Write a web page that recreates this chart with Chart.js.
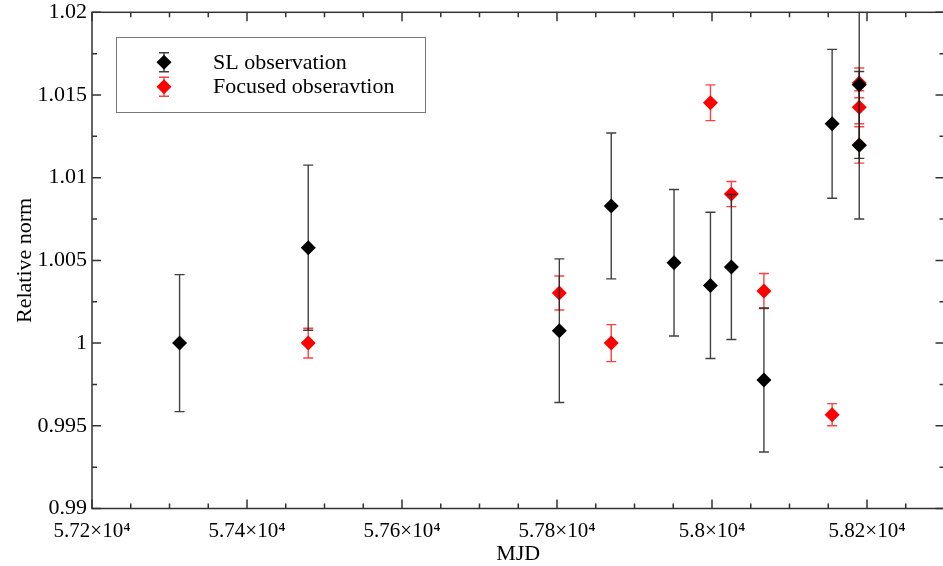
<!DOCTYPE html>
<html>
<head>
<meta charset="utf-8">
<script src="https://cdn.jsdelivr.net/npm/chart.js@4/dist/chart.umd.min.js"></script>
<style>
  body { margin: 0; background: #fff; }
  #wrap { width: 943px; height: 566px; }
</style>
</head>
<body>
<div id="wrap"><canvas id="Chart" width="943" height="566"></canvas></div>
<script>
// tick values and labels
const xTicks = [57200, 57400, 57600, 57800, 58000, 58200]
const xTickLabels = ['5.72×10⁴', '5.74×10⁴', '5.76×10⁴', '5.78×10⁴', '5.8×10⁴', '5.82×10⁴']
const yTicks = [0.99, 0.995, 1, 1.005, 1.01, 1.015, 1.02]
const yTickLabels = ['0.99', '0.995', '1', '1.005', '1.01', '1.015', '1.02']

// SL observation (black)
const slMjd = [57313, 57479, 57803, 57870, 57951, 57998, 58025, 58067, 58155, 58190, 58190]
const slNorm = [1.0000, 1.00577, 1.00075, 1.00829, 1.00486, 1.00349, 1.00460, 0.99777, 1.01326, 1.01562, 1.01196]
const slErr = [0.00414, 0.00499, 0.00434, 0.00441, 0.00443, 0.00442, 0.00438, 0.00435, 0.00450, 0.00445, 0.00446]

// Focused observation (red)
const focMjd = [57479, 57803, 57870, 57998, 58025, 58067, 58155, 58190, 58190, 58190]
const focNorm = [1.0000, 1.00303, 1.0000, 1.01453, 1.00901, 1.00315, 0.99567, 1.01573, 1.01426, 1.01198]
const focErr = [0.00090, 0.00103, 0.00112, 0.00108, 0.00076, 0.00106, 0.00067, 0.00090, 0.00100, 0.00110]

const FONT = 'Liberation Serif'

function toPoints(xs, ys) {
    return xs.map((v, i) => ({x: v, y: ys[i]}))
}

// the plot box runs a little past the right edge of the picture
const stretchRight = {
    id: 'stretchRight',
    afterLayout(chart) {
        const xs = chart.scales.x
        const right = chart.width + 1.5
        xs.right = right
        xs.width = right - xs.left
        xs.configure()
        chart.chartArea.right = right
        chart.chartArea.width = right - chart.chartArea.left
    }
}

// draw the vertical error bars under each dataset's own markers
const errorBars = {
    id: 'errorBars',
    beforeDatasetDraw(chart, args) {
        const ds = chart.data.datasets[args.index]
        const xs = chart.scales.x, ys = chart.scales.y
        const area = chart.chartArea
        const ctx = chart.ctx
        ctx.save()
        ctx.beginPath()
        ctx.rect(area.left, area.top, area.right - area.left, area.bottom - area.top)
        ctx.clip()
        ctx.strokeStyle = ds.errColor
        ctx.lineWidth = 1.4
        ds.data.forEach((p, i) => {
            const px = xs.getPixelForValue(p.x)
            const top = ys.getPixelForValue(p.y + ds.errors[i])
            const bot = ys.getPixelForValue(p.y - ds.errors[i])
            ctx.beginPath()
            ctx.moveTo(px, top); ctx.lineTo(px, bot)
            ctx.moveTo(px - 5, top); ctx.lineTo(px + 5, top)
            ctx.moveTo(px - 5, bot); ctx.lineTo(px + 5, bot)
            ctx.stroke()
        })
        ctx.restore()
    }
}

// box round the plot with inward ticks on all four sides
const frame = {
    id: 'frame',
    beforeDatasetsDraw(chart) {
        const {left, right, top, bottom} = chart.chartArea
        const xs = chart.scales.x, ys = chart.scales.y
        const ctx = chart.ctx
        ctx.save()
        ctx.strokeStyle = '#333'
        ctx.lineWidth = 1.5
        ctx.strokeRect(left, top, right - left, bottom - top)
        ctx.beginPath()
        for (let v = xs.min; v <= xs.max + 1e-6; v += 50) {
            const px = xs.getPixelForValue(v)
            const len = (Math.round(v) % 200 === 0) ? 9 : 5
            ctx.moveTo(px, bottom); ctx.lineTo(px, bottom - len)
            ctx.moveTo(px, top); ctx.lineTo(px, top + len)
        }
        for (let k = 0; k <= 12; k++) {
            const v = ys.min + k * 0.0025
            const py = ys.getPixelForValue(v)
            const len = (k % 2 === 0) ? 9 : 5
            ctx.moveTo(left, py); ctx.lineTo(left + len, py)
            ctx.moveTo(right, py); ctx.lineTo(right - len, py)
        }
        ctx.stroke()
        ctx.restore()
    }
}

// legend box with error-bar symbols
const legendBox = {
    id: 'legendBox',
    afterDraw(chart) {
        const ctx = chart.ctx
        ctx.save()
        ctx.strokeStyle = '#777'
        ctx.lineWidth = 1
        ctx.strokeRect(116.5, 37.5, 309, 75)
        chart.data.datasets.forEach((ds, i) => {
            const cy = 62.3 + i * 24.4
            const cx = 164
            ctx.strokeStyle = ds.errColor
            ctx.lineWidth = 1.4
            ctx.beginPath()
            ctx.moveTo(cx, cy - 9.5); ctx.lineTo(cx, cy + 9.5)
            ctx.moveTo(cx - 5, cy - 9.5); ctx.lineTo(cx + 5, cy - 9.5)
            ctx.moveTo(cx - 5, cy + 9.5); ctx.lineTo(cx + 5, cy + 9.5)
            ctx.stroke()
            ctx.fillStyle = ds.backgroundColor
            ctx.beginPath()
            ctx.moveTo(cx, cy - 7.5); ctx.lineTo(cx + 7.5, cy)
            ctx.lineTo(cx, cy + 7.5); ctx.lineTo(cx - 7.5, cy)
            ctx.closePath()
            ctx.fill()
            ctx.fillStyle = '#000'
            ctx.font = '22px "' + FONT + '"'
            ctx.textBaseline = 'middle'
            ctx.textAlign = 'left'
            ctx.fillText(ds.label, 213, cy + 1)
        })
        ctx.restore()
    }
}

const ctx = document.getElementById('Chart').getContext('2d')
const myChart = new Chart(ctx, {
    type: 'scatter',
    data: {
        datasets: [{
            label: 'SL observation',
            data: toPoints(slMjd, slNorm),
            errors: slErr,
            errColor: 'rgba(30,30,30,0.85)',
            backgroundColor: '#000000',
            borderColor: '#000000',
            borderWidth: 0,
            pointStyle: 'rectRot',
            pointRadius: 7.5,
            pointHoverRadius: 7.5
        }, {
            label: 'Focused obseravtion',
            data: toPoints(focMjd, focNorm),
            errors: focErr,
            errColor: 'rgba(255,0,0,0.75)',
            backgroundColor: '#ff0000',
            borderColor: '#ff0000',
            borderWidth: 0,
            pointStyle: 'rectRot',
            pointRadius: 7.5,
            pointHoverRadius: 7.5
        }]
    },
    options: {
        responsive: false,
        animation: false,
        devicePixelRatio: 1,
        layout: { padding: { top: 12.3, right: 0, left: 0, bottom: 0 } },
        plugins: {
            legend: { display: false },
            tooltip: { enabled: false }
        },
        scales: {
            x: {
                type: 'linear',
                min: 57200,
                max: 58300,
                afterBuildTicks: (scale) => { scale.ticks = xTicks.map(v => ({value: v})) },
                afterFit: (scale) => {
                    scale.height = 57.5
                    scale.paddingLeft = 0
                    scale.paddingRight = 0
                },
                grid: { display: false, drawTicks: false },
                border: { display: false },
                ticks: {
                    autoSkip: false,
                    maxRotation: 0,
                    padding: 10,
                    color: '#000',
                    font: { family: FONT, size: 21 },
                    callback: (value, index) => xTickLabels[index]
                },
                title: {
                    display: true,
                    text: 'MJD',
                    color: '#000',
                    font: { family: FONT, size: 22, lineHeight: 1.1 },
                    padding: { top: 0, bottom: 0 }
                }
            },
            y: {
                min: 0.99,
                max: 1.02,
                afterBuildTicks: (scale) => { scale.ticks = yTicks.map(v => ({value: v})) },
                afterFit: (scale) => {
                    scale.width = 92
                    scale.paddingTop = 0
                    scale.paddingBottom = 0
                },
                grid: { display: false, drawTicks: false },
                border: { display: false },
                ticks: {
                    autoSkip: false,
                    padding: 5,
                    color: '#000',
                    font: { family: FONT, size: 22 },
                    callback: (value, index) => yTickLabels[index]
                },
                title: {
                    display: true,
                    text: 'Relative norm',
                    color: '#000',
                    font: { family: FONT, size: 22, lineHeight: 1.2 },
                    padding: { top: 12, bottom: 0 }
                }
            }
        }
    },
    plugins: [stretchRight, errorBars, frame, legendBox]
})
</script>
</body>
</html>
